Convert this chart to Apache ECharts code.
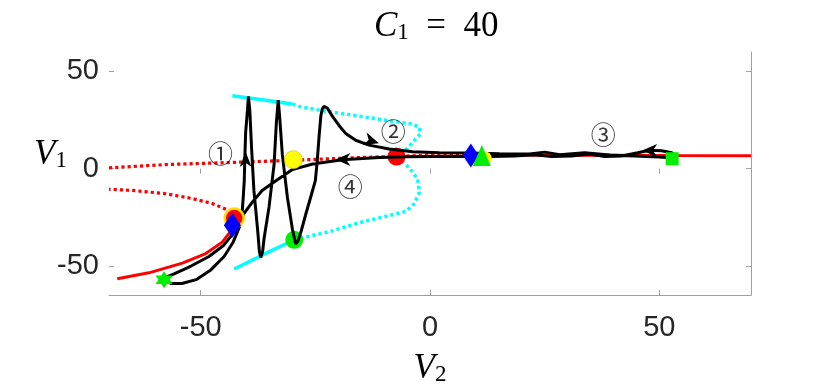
<!DOCTYPE html>
<html>
<head>
<meta charset="utf-8">
<script src="https://cdn.jsdelivr.net/npm/echarts@6/dist/echarts.min.js"></script>
<style>html,body{margin:0;padding:0;background:#fff;}#c{width:830px;height:391px;}</style>
</head>
<body>
<div id="c"></div>
<script>
// ---- tick labels ----
const xTicks = [-50, 0, 50];
const yTicks = [-50, 0, 50];

// ---- equilibrium branch (red) ----
const redStableLow = [[-68.2,-56.6],[-61.3,-53.6],[-54.0,-48.6],[-48.9,-43.7],[-45.3,-37.8],[-43.4,-32.0],[-42.9,-29.0],[-42.7,-26.5],[-42.7,-25.5]];
const redUnstableLow = [[-42.7,-25.5],[-43.1,-23.7],[-44.2,-21.2],[-47.5,-17.9],[-51.8,-15.4],[-57.6,-12.9],[-64.9,-11.2],[-70,-10.6]];
const redUnstableUp = [[-70,0.4],[-57.6,2.1],[-43.1,3.2],[-30.0,4.3],[-15.4,5.7],[-7.3,6.3],[0,6.9],[9,7.0]];
const redStableUp = [[9,7.0],[30,6.9],[52,6.7],[70,6.6]];

// ---- periodic orbit branch max/min (cyan) ----
const cyanStableUp = [[-43.1,37.5],[-36.6,35.4],[-30.0,33.2]];
const cyanUnstableUp = [[-30.0,33.2],[-28.5,32.0],[-22.7,29.5],[-15.4,27.0],[-8.9,24.6],[-3.8,22.9],[-2.3,21.2],[-2.1,17.9],[-3.4,14.6],[-4.9,10.4],[-6.3,8.0],[-7.3,6.2]];
const cyanStableLow = [[-42.7,-51.6],[-37.3,-45.3],[-29.6,-36.6]];
const cyanUnstableLow = [[-29.6,-36.6],[-21.3,-32.0],[-15.4,-27.8],[-9.5,-24.5],[-5.2,-22.0],[-3.4,-17.9],[-2.3,-12.1],[-2.7,-5.4],[-4.5,0.4],[-7.3,6.2]];

// ---- trajectory (black) ----
const trajectory = [
[-58.0,-56.6],[-56.5,-59.1],[-54.1,-59.1],[-51.0,-57.1],[-47.8,-52.1],[-44.9,-45.2],[-42.9,-37.7],[-41.6,-30.2],[-41.0,-23.7],[-40.7,-13.7],[-40.5,-6.2],[-40.4,3.7],[-40.2,18.7],[-39.8,30.2],[-39.6,37.2],
[-39.3,30.2],[-38.9,10.2],[-38.4,-11.2],[-37.6,-31.2],[-37.2,-42.7],[-36.9,-45.7],
[-36.5,-42.7],[-36.2,-36.2],[-35.1,-19.7],[-34.0,2.2],[-33.5,23.7],[-33.1,35.2],
[-32.8,27.2],[-32.2,7.2],[-31.1,-14.7],[-30.0,-31.2],[-29.3,-38.7],
[-28.8,-37.2],[-28.1,-32.2],[-27.0,-22.7],[-25.9,-13.7],[-25.0,-6.2],[-24.6,3.7],[-24.2,16.2],[-23.8,27.2],[-23.5,30.7],[-23.1,32.0],[-22.4,31.2],
[-21.3,27.0],[-19.8,22.1],[-18.3,17.9],[-16.2,14.6],[-13.3,12.1],[-8.9,10.1],[-3.8,8.7],[2.0,8.2],[8.6,8.0],[15.1,7.7],[21.7,7.5],[25.0,8.5],[28.3,7.2],[33.7,8.2],[39.2,7.0],[44.6,6.5],[50.1,6.0],[52.7,5.5],[53.6,6.7],[52.7,8.2],[50.5,9.2],[47.9,9.5],
[45.3,8.2],[41.8,6.5],[38.1,6.2],[34.8,7.5],[30.9,6.5],[26.5,6.2],[22.8,7.2],[18.4,6.5],[13.0,6.2],[6.4,6.2],[-0.2,6.2],[-5.2,6.1],[-11.1,5.7],[-19.1,4.6],[-25.6,2.4],[-30.0,-0.5],[-33.6,-6.2],[-36.6,-11.2],[-38.7,-17.1],[-40.5,-22.9],[-42.0,-29.5],
[-43.4,-34.7],[-45.1,-39.7],[-48.2,-45.2],[-52.1,-50.1],[-55.8,-54.1],[-57.8,-56.1],[-58.2,-57.1],[-58.0,-56.6]
];

// ---- special points ----
const hopfRed = [[-7.3,6.2]];
const lpcGreen = [[-29.6,-36.6]];
const yellowUp = [[-29.8,4.6]];
const foldCircle = [[-42.7,-25.4]];
const foldDiamond = [[-43.1,-29.1]];
const hopfDiamond = [[8.9,6.75]];
const hopfTriangle = [[11.3,6.75]];
const hopfYellow = [[11.9,5.4]];
const endSquare = [[52.8,5.1]];
const startStar = [[-58.0,-57.1]];

// ---- arrows and labels ----
const arrowUp = [[-40.2,4.7]];
const arrowRight = [[-12.7,14.2]];
const arrowLeft = [[47.9,9.3],[-19.0,4.7]];
const stepLabels = ['\u2460','\u2461','\u2462','\u2463'];
const stepPos = [[-45.7,7.7],[-8.0,19.0],[37.8,17.7],[-17.4,-9.2]];

const AX = '#a0a0a0';
const TXT = '#262626';
const hexagram = 'path://M0,-10L8.66,5L-8.66,5Z M0,10L-8.66,-5L8.66,-5Z';
const pRight = 'path://M0,0L14,6L0,12L4,6Z';
const pLeft = 'path://M14,0L0,6L14,12L10,6Z';
const pUp = 'path://M0,14L6,0L12,14L6,10Z';

function ln(data, color, width, dotted, z) {
  return {type:'line', data:data, showSymbol:false, symbol:'none', z:z||2, animation:false,
    lineStyle:{color:color, width:width, type: dotted ? [3.2,3] : 'solid', cap:'butt'}};
}
function sc(data, symbol, size, color, z, border) {
  const it = {color:color, opacity:1};
  if (border) { it.borderColor = border[0]; it.borderWidth = border[1]; }
  return {type:'scatter', data:data, symbol:symbol, symbolSize:size, z:z, animation:false, itemStyle:it,
    emphasis:{disabled:true}};
}
const serifRich = {
  v:{fontFamily:'Liberation Serif', fontStyle:'italic', fontWeight:'normal', fontSize:35, color:'#000', lineHeight:36, verticalAlign:'bottom'},
  s:{fontFamily:'Liberation Serif', fontWeight:'normal', fontSize:23, color:'#000', lineHeight:30, verticalAlign:'bottom'},
  n:{fontFamily:'Liberation Serif', fontWeight:'normal', fontSize:35, color:'#000', lineHeight:36, verticalAlign:'bottom'}
};

const chart = echarts.init(document.getElementById('c'), null, {renderer:'canvas'});
chart.setOption({
  animation:false,
  backgroundColor:'#fff',
  title:{text:'{v|C}{s|1}{n|  =  40}', left:369, top:3, textStyle:{fontWeight:'normal', rich:serifRich}},
  grid:{left:109, right:79, top:52, bottom:88},
  xAxis:[
    {type:'value', min:-70, max:70, position:'bottom',
     axisLine:{show:true, onZero:false, lineStyle:{color:AX, width:1}},
     axisTick:{show:true, inside:true, length:5, customValues:xTicks, lineStyle:{color:AX}},
     axisLabel:{customValues:xTicks, fontSize:29, color:TXT, fontFamily:'Liberation Sans', margin:18},
     splitLine:{show:false},
     name:'{v|V}{s|2}', nameLocation:'middle', nameGap:55, nameTextStyle:{rich:serifRich}},
    {type:'value', min:-70, max:70, position:'top',
     axisLine:{show:false}, axisTick:{show:true, inside:true, length:5, customValues:xTicks, lineStyle:{color:AX}},
     axisLabel:{show:false}, splitLine:{show:false}}
  ],
  yAxis:[
    {type:'value', min:-65, max:60, position:'left',
     axisLine:{show:false, onZero:false},
     axisTick:{show:true, inside:true, length:5, customValues:yTicks, lineStyle:{color:AX}},
     axisLabel:{customValues:yTicks, fontSize:29, color:TXT, fontFamily:'Liberation Sans', margin:10},
     splitLine:{show:false}},
    {type:'value', min:-65, max:60, position:'right',
     axisLine:{show:true, onZero:false, lineStyle:{color:AX, width:1}},
     axisTick:{show:true, inside:true, length:5, customValues:yTicks, lineStyle:{color:AX}},
     axisLabel:{show:false}, splitLine:{show:false}}
  ],
  graphic:[{type:'text', left:34, top:137, style:{text:'{v|V}{s|1}', rich:serifRich}}],
  series:[
    ln(redStableLow, '#ff0000', 3, false, 2),
    ln(redUnstableLow, '#ff0000', 3.2, true, 2),
    ln(redUnstableUp, '#ff0000', 3.2, true, 2),
    ln(redStableUp, '#ff0000', 3, false, 2),
    ln(cyanStableUp, '#00ffff', 3.5, false, 2),
    ln(cyanUnstableUp, '#00ffff', 3.5, true, 2),
    ln(cyanStableLow, '#00ffff', 3.5, false, 2),
    ln(cyanUnstableLow, '#00ffff', 3.5, true, 2),
    sc(hopfRed, 'circle', 18, '#ff0000', 3),
    sc(lpcGreen, 'circle', 18, '#00ee00', 3),
    ln(trajectory, '#000000', 3, false, 4),
    sc(yellowUp, 'circle', 18, '#ffff00', 5, ['#c8b400', 0.6]),
    sc(foldCircle, 'circle', 19, '#ff0000', 5, ['#ffdd00', 2.5]),
    sc(foldDiamond, 'diamond', [17,25], '#0000ff', 6),
    sc(hopfYellow, 'circle', 14, '#ffff00', 5),
    sc(hopfDiamond, 'diamond', [16,24], '#0000ff', 6),
    sc(hopfTriangle, 'triangle', [18,21], '#00ee00', 7),
    sc(endSquare, 'rect', 13, '#00ee00', 6),
    sc(startStar, hexagram, 17, '#00ee00', 6),
    sc(arrowUp, pUp, [12,15], '#000', 8),
    Object.assign(sc(arrowRight, pRight, [15,13], '#000', 8), {symbolRotate:-18}),
    sc(arrowLeft, pLeft, [15,13], '#000', 8),
    {type:'scatter', z:9, animation:false, symbol:'circle', symbolSize:1, itemStyle:{color:'rgba(0,0,0,0)'},
     data: stepPos.map((p,i)=>({value:p, label:{show:true, formatter:stepLabels[i]}})),
     label:{show:true, position:'inside', fontSize:25, color:'#000', fontFamily:'Noto Sans CJK SC, DejaVu Sans'}}
  ]
});
</script>
</body>
</html>
